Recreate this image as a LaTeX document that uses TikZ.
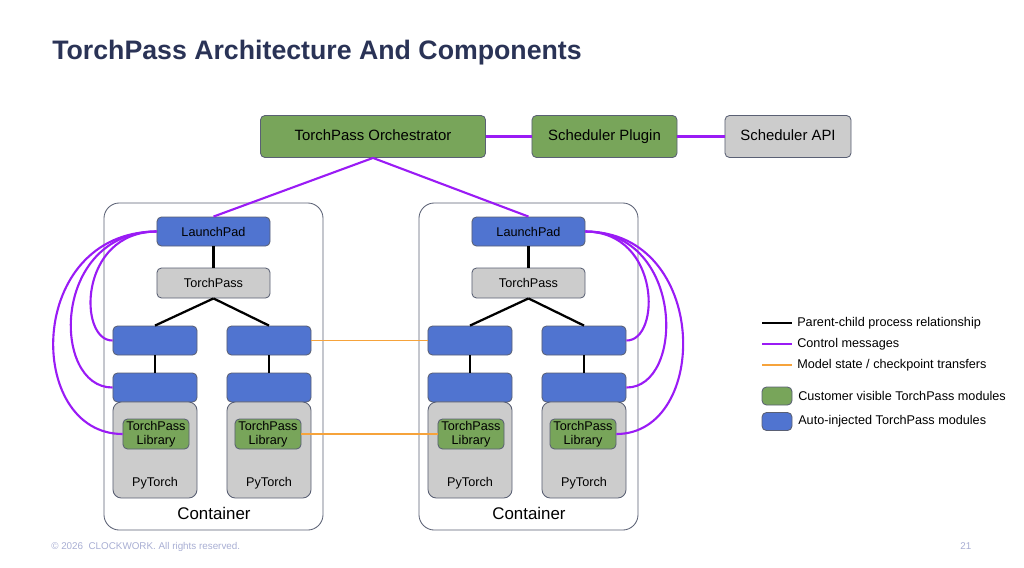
\documentclass[tikz,border=0pt]{standalone}
\usepackage{fontspec}
\setmainfont{Liberation Sans}
\definecolor{titlecol}{HTML}{2A3356}
\definecolor{tpgreen}{HTML}{78A55A}
\definecolor{tpblue}{HTML}{5074D0}
\definecolor{tpgray}{HTML}{CCCCCC}
\definecolor{tppurple}{HTML}{9A1BF5}
\definecolor{tporange}{HTML}{F6A33B}
\definecolor{edgecol}{HTML}{5A6074}
\definecolor{footcol}{HTML}{A8AED3}

\begin{document}
\begin{tikzpicture}[x=0.025cm,y=-0.025cm,
  every node/.style={inner sep=0pt,font=\fontsize{9}{10}\selectfont},
  box/.style={draw=edgecol,line width=0.6pt,rounded corners=3.2pt},
  greenbox/.style={box,fill=tpgreen},
  bluebox/.style={box,fill=tpblue},
  graybox/.style={box,fill=tpgray},
  topbox/.style={minimum height=1.05cm,text height=1.6ex,text depth=0.4ex,font=\fontsize{10.6}{12}\selectfont},
  podbox/.style={box,fill=white,rounded corners=11pt,minimum width=5.475cm,minimum height=8.175cm},
  torchbox/.style={box,fill=tpgray,rounded corners=6pt,minimum width=2.1cm,minimum height=2.4cm},
  libbox/.style={greenbox,align=center,minimum width=1.65cm,minimum height=0.75cm},
  procbox/.style={bluebox,minimum width=2.1cm,minimum height=0.725cm},
  ctrl/.style={draw=tppurple,line width=1.5pt},
  parent/.style={draw=black,line width=1.6pt},
  ckpt/.style={draw=tporange,line width=1.3pt}]
\useasboundingbox (0,0) rectangle (1024,567);
\node[anchor=base west,text=titlecol,font=\fontsize{19}{22}\selectfont\bfseries] (title) at (52,59) {TorchPass Architecture And Components};
\node[greenbox,topbox,minimum width=5.625cm] (orch) at (373,136.5) {TorchPass Orchestrator};
\node[greenbox,topbox,minimum width=3.625cm] (plug) at (604.5,136.5) {Scheduler Plugin};
\node[graybox,topbox,minimum width=3.15cm] (api) at (788,136.5) {Scheduler API};
\node[podbox] (pod1) at (213.5,366.5) {};
\node[font=\fontsize{12}{14}\selectfont] (pod1l) at (214,513) {Container};
\node[bluebox,minimum width=2.825cm,minimum height=0.725cm] (lp1) at (213.5,231.5) {LaunchPad};
\node[graybox,minimum width=2.825cm,minimum height=0.75cm] (tp1) at (213.5,283) {TorchPass};
\node[procbox] (a11) at (155,340.5) {};
\node[procbox] (a12) at (269,340.5) {};
\node[procbox] (b11) at (155,387.5) {};
\node[procbox] (b12) at (269,387.5) {};
\node[torchbox] (py11) at (155,450) {};
\node[torchbox] (py12) at (269,450) {};
\node (py11l) at (155,483) {PyTorch};
\node (py12l) at (269,483) {PyTorch};
\node[libbox] (lib11) at (156,434) {TorchPass\\Library};
\node[libbox] (lib12) at (268,434) {TorchPass\\Library};
\node[podbox] (pod2) at (528.5,366.5) {};
\node[font=\fontsize{12}{14}\selectfont] (pod2l) at (529,513) {Container};
\node[bluebox,minimum width=2.825cm,minimum height=0.725cm] (lp2) at (528.5,231.5) {LaunchPad};
\node[graybox,minimum width=2.825cm,minimum height=0.75cm] (tp2) at (528.5,283) {TorchPass};
\node[procbox] (a21) at (470,340.5) {};
\node[procbox] (a22) at (584,340.5) {};
\node[procbox] (b21) at (470,387.5) {};
\node[procbox] (b22) at (584,387.5) {};
\node[torchbox] (py21) at (470,450) {};
\node[torchbox] (py22) at (584,450) {};
\node (py21l) at (470,483) {PyTorch};
\node (py22l) at (584,483) {PyTorch};
\node[libbox] (lib21) at (471,434) {TorchPass\\Library};
\node[libbox] (lib22) at (583,434) {TorchPass\\Library};
\draw[ctrl] (orch.east) -- (plug.west);
\draw[ctrl] (plug.east) -- (api.west);
\draw[ctrl] (orch.south) -- (lp1.north);
\draw[ctrl] (orch.south) -- (lp2.north);
\draw[parent] (lp1) -- (tp1);
\draw[parent] (tp1.south) -- (a11.north);
\draw[parent] (tp1.south) -- (a12.north);
\draw[parent] (a11) -- (b11);
\draw[parent] (a12) -- (b12);
\draw[parent] (lp2) -- (tp2);
\draw[parent] (tp2.south) -- (a21.north);
\draw[parent] (tp2.south) -- (a22.north);
\draw[parent] (a21) -- (b21);
\draw[parent] (a22) -- (b22);
\draw[ckpt] (a12.east) -- (a21.west);
\draw[ckpt] (lib12.east) -- (lib21.west);
\draw[ctrl] (lp1.west) .. controls (78,232) and (78,341) .. (a11.west);
\draw[ctrl] (lp1.west) .. controls (51,232) and (51,388) .. (b11.west);
\draw[ctrl] (lp1.west) .. controls (25,232) and (25,434) .. (lib11.west);
\draw[ctrl] (lp2.east) .. controls (661,232) and (661,341) .. (a22.east);
\draw[ctrl] (lp2.east) .. controls (685,232) and (685,388) .. (b22.east);
\draw[ctrl] (lp2.east) .. controls (710,232) and (710,434) .. (lib22.east);
\coordinate (k1a) at (762,323);
\coordinate (k1b) at (792,323);
\coordinate (k2a) at (762,344);
\coordinate (k2b) at (792,344);
\coordinate (k3a) at (762,365);
\coordinate (k3b) at (792,365);
\draw[parent] (k1a) -- (k1b);
\draw[ctrl] (k2a) -- (k2b);
\draw[ckpt] (k3a) -- (k3b);
\node[anchor=west] (k1l) at (797,323) {Parent-child process relationship};
\node[anchor=west] (k2l) at (797,344) {Control messages};
\node[anchor=west] (k3l) at (797,365) {Model state / checkpoint transfers};
\node[greenbox,minimum width=0.75cm,minimum height=0.45cm] (k4) at (777,396) {};
\node[bluebox,minimum width=0.75cm,minimum height=0.45cm] (k5) at (777,421.5) {};
\node[anchor=west] (k4l) at (798,396) {Customer visible TorchPass modules};
\node[anchor=west] (k5l) at (798,421.5) {Auto-injected TorchPass modules};
\node[anchor=base west,text=footcol,font=\fontsize{7}{8}\selectfont] (foot) at (51,549) {© 2026\ \ CLOCKWORK. All rights reserved.};
\node[anchor=base west,text=footcol,font=\fontsize{7}{8}\selectfont] (page) at (960,549) {21};
\end{tikzpicture}
\end{document}
